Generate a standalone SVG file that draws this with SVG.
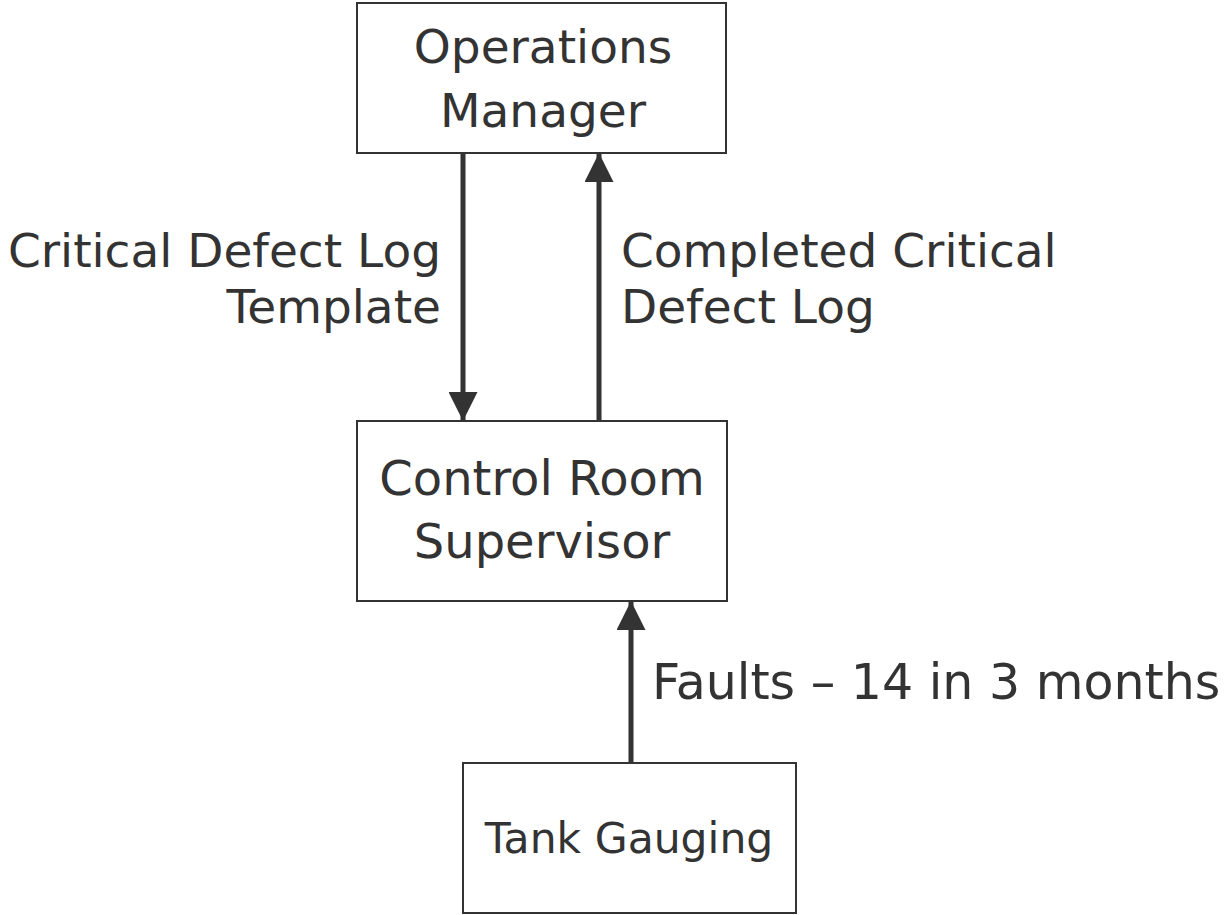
<svg xmlns="http://www.w3.org/2000/svg" width="1226" height="915" viewBox="0 0 1226 915">
<style>
.box{fill:#fff;stroke:#333;stroke-width:2}
.t{font-family:"DejaVu Sans",Verdana,sans-serif;fill:#333;font-size:47px}
.c{text-anchor:middle}
.e{text-anchor:end}
.conn{stroke:#333;stroke-width:5;fill:none}
</style>
<defs>
<marker id="ah" viewBox="0 0 10 10" refX="10" refY="5" markerWidth="5.8" markerHeight="5.8" markerUnits="strokeWidth" orient="auto">
<path d="M0,0 L10,5 L0,10 z" fill="#333"/>
</marker>
</defs>
<rect width="1226" height="915" fill="#fff"/>
<g id="connectors">
<line class="conn" x1="463" y1="153" x2="463" y2="421" marker-end="url(#ah)"/>
<line class="conn" x1="599" y1="421" x2="599" y2="153" marker-end="url(#ah)"/>
<line class="conn" x1="631" y1="763" x2="631" y2="601" marker-end="url(#ah)"/>
<text class="t e" x="441" y="267">Critical Defect Log</text>
<text class="t e" x="441" y="323">Template</text>
<text class="t" x="621" y="267">Completed Critical</text>
<text class="t" x="621" y="323">Defect Log</text>
<text class="t" x="652" y="699" style="font-size:49px">Faults – 14 in 3 months</text>
</g>
<g id="ops">
<rect class="box" x="357" y="3" width="369" height="150"/>
<text class="t c" x="543" y="63">Operations</text>
<text class="t c" x="543" y="127">Manager</text>
</g>
<g id="crs">
<rect class="box" x="357" y="421" width="370" height="180"/>
<text class="t c" x="542" y="495" style="font-size:48px">Control Room</text>
<text class="t c" x="542" y="558" style="font-size:48px">Supervisor</text>
</g>
<g id="tank">
<rect class="box" x="463" y="763" width="333" height="150"/>
<text class="t c" x="629" y="853" style="font-size:42.5px">Tank Gauging</text>
</g>
</svg>
